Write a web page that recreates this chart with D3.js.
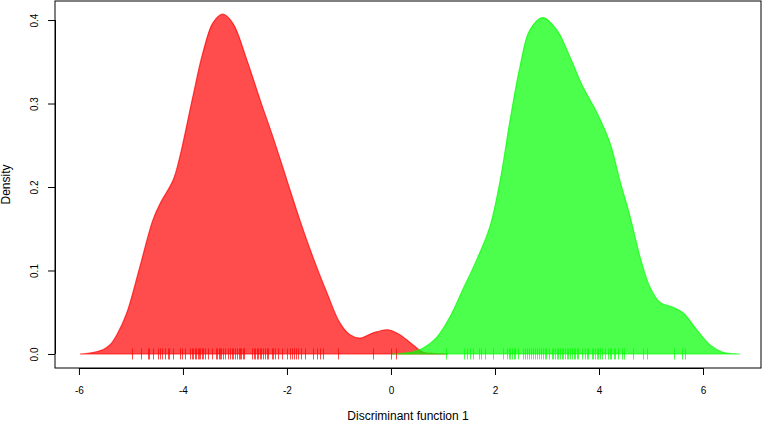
<!DOCTYPE html>
<html>
<head>
<meta charset="utf-8">
<script src="https://cdn.jsdelivr.net/npm/d3@7"></script>
<style>
  html, body { margin: 0; padding: 0; background: #fff; }
  svg { display: block; font-family: "Liberation Sans", Arial, Helvetica, sans-serif; }
</style>
</head>
<body>
<svg id="chart" width="767" height="423"></svg>
<script>
// ---- Data ----
const redX = [-5.98, -5.79, -5.54, -5.40, -5.27, -5.08, -4.83, -4.58, -4.44, -4.19, -4.06, -3.81, -3.62, -3.42, -3.23, -3.04, -2.77, -2.52, -2.27, -2.00, -1.75, -1.50, -1.23, -0.98, -0.79, -0.60, -0.35, -0.06, 0.17, 0.42, 0.62, 0.85, 1.10];
const redDensity = [0, 0.001, 0.005, 0.011, 0.023, 0.049, 0.104, 0.160, 0.180, 0.208, 0.236, 0.308, 0.360, 0.397, 0.407, 0.396, 0.352, 0.305, 0.260, 0.208, 0.160, 0.116, 0.073, 0.037, 0.023, 0.019, 0.025, 0.029, 0.023, 0.011, 0.002, 0.0005, 0];

const greenX = [0.02, 0.27, 0.45, 0.62, 0.88, 1.13, 1.38, 1.65, 1.90, 2.10, 2.29, 2.48, 2.67, 2.92, 3.19, 3.44, 3.69, 3.96, 4.21, 4.40, 4.60, 4.79, 4.98, 5.17, 5.42, 5.62, 5.88, 6.13, 6.38, 6.71];
const greenDensity = [0, 0.001, 0.003, 0.007, 0.020, 0.044, 0.077, 0.113, 0.152, 0.208, 0.280, 0.344, 0.388, 0.403, 0.388, 0.356, 0.320, 0.289, 0.253, 0.208, 0.164, 0.116, 0.080, 0.062, 0.056, 0.049, 0.029, 0.011, 0.002, 0];

const redRug = [-4.975, -4.81, -4.67, -4.65, -4.57, -4.475, -4.44, -4.40, -4.35, -4.29, -4.27, -4.19, -4.06, -4.025, -3.96, -3.865,
  -3.83, -3.80, -3.77, -3.75, -3.72, -3.69, -3.67, -3.64, -3.61, -3.58, -3.51, -3.44,
  -3.37, -3.34, -3.31, -3.28, -3.26, -3.225, -3.19, -3.14, -3.10, -3.06, -3.03, -3.00,
  -2.96, -2.93, -2.90, -2.875, -2.85, -2.82, -2.67, -2.64, -2.615, -2.58, -2.55, -2.52, -2.49, -2.46, -2.42, -2.39, -2.36,
  -2.29, -2.26, -2.23, -2.17, -2.10, -1.99, -1.94, -1.90, -1.87, -1.83, -1.78, -1.73, -1.65, -1.49, -1.43, -1.37, -1.30,
  -1.01, -0.34, 0.01, 0.10];
const greenRug = [1.06, 1.41, 1.46, 1.52, 1.58, 1.69, 1.74, 1.81, 1.97, 2.16, 2.23, 2.26, 2.29, 2.33, 2.36, 2.38, 2.45, 2.54,
  2.58, 2.62, 2.65, 2.69, 2.73, 2.77, 2.81, 2.85, 2.88, 2.93, 2.96, 2.99, 3.03, 3.09, 3.12, 3.15, 3.19, 3.22, 3.25, 3.28,
  3.31, 3.35, 3.38, 3.41, 3.44, 3.475, 3.51, 3.54, 3.57, 3.60, 3.67, 3.73, 3.76, 3.79, 3.86, 3.89, 3.92, 3.96, 3.99, 4.02,
  4.05, 4.12, 4.18, 4.21, 4.24, 4.28, 4.31, 4.37, 4.44, 4.49, 4.66, 4.85, 4.92, 5.45, 5.60, 5.65];

const xTicks = [-6, -4, -2, 0, 2, 4, 6];
const yTicks = [0.0, 0.1, 0.2, 0.3, 0.4];
const xTickLabels = ["-6", "-4", "-2", "0", "2", "4", "6"];
const yTickLabels = ["0.0", "0.1", "0.2", "0.3", "0.4"];

// ---- Layout ----
const svg = d3.select("#chart");
const plotL = 55, plotR = 761, plotT = 1, plotB = 368;

const x = d3.scaleLinear().domain([-6.46, 7.115]).range([plotL, plotR]);
const y = d3.scaleLinear().domain([-0.0168, 0.4228]).range([plotB, plotT]);

const area = d3.area()
  .x(d => x(d[0]))
  .y0(y(0))
  .y1(d => y(d[1]))
  .curve(d3.curveCatmullRom.alpha(0.5));

const redData = redX.map((v, i) => [v, redDensity[i]]);
const greenData = greenX.map((v, i) => [v, greenDensity[i]]);

svg.append("path").datum(redData)
  .attr("d", area)
  .attr("fill", "rgba(255,0,0,0.7)")
  .attr("stroke", "rgba(255,0,0,0.7)")
  .attr("stroke-width", 1.2);

svg.append("path").datum(greenData)
  .attr("d", area)
  .attr("fill", "rgba(0,255,0,0.7)")
  .attr("stroke", "rgba(0,255,0,0.7)")
  .attr("stroke-width", 1.2);

// rugs (pch="|" at density 0)
svg.append("g").selectAll("line").data(redRug).join("line")
  .attr("x1", d => Math.round(x(d)) + 0.5).attr("x2", d => Math.round(x(d)) + 0.5)
  .attr("y1", y(0) - 5.5).attr("y2", y(0) + 5.5)
  .attr("stroke", "rgba(255,0,0,0.7)").attr("stroke-width", 1);

svg.append("g").selectAll("line").data(greenRug).join("line")
  .attr("x1", d => Math.round(x(d)) + 0.5).attr("x2", d => Math.round(x(d)) + 0.5)
  .attr("y1", y(0) - 5.5).attr("y2", y(0) + 5.5)
  .attr("stroke", "rgba(0,255,0,0.7)").attr("stroke-width", 1);

// box
svg.append("rect")
  .attr("x", plotL).attr("y", plotT)
  .attr("width", plotR - plotL).attr("height", plotB - plotT)
  .attr("fill", "none").attr("stroke", "#000").attr("stroke-width", 1);

// x axis
const xAxis = d3.axisBottom(x).tickValues(xTicks)
  .tickFormat((d, i) => xTickLabels[i]).tickSize(7).tickPadding(10).tickSizeOuter(0);
const gx = svg.append("g").attr("transform", `translate(0,${plotB})`).call(xAxis);
gx.select(".domain").attr("d", `M${x(-6)},0.5H${x(6)}`).attr("stroke", "#000");
gx.selectAll(".tick line").attr("stroke", "#000");
gx.selectAll(".tick text").attr("font-size", 10).attr("font-family", "Liberation Sans, Arial, sans-serif")
  .attr("fill", "#000").attr("y", 26).attr("dy", 0);

// y axis
const yAxis = d3.axisLeft(y).tickValues(yTicks)
  .tickFormat((d, i) => yTickLabels[i]).tickSize(7).tickSizeOuter(0);
const gy = svg.append("g").attr("transform", `translate(${plotL},0)`).call(yAxis);
gy.select(".domain").attr("d", `M0.5,${y(0)}V${y(0.4)}`).attr("stroke", "#000");
gy.selectAll(".tick line").attr("stroke", "#000");
gy.selectAll(".tick text")
  .attr("font-size", 10).attr("font-family", "Liberation Sans, Arial, sans-serif").attr("fill", "#000")
  .attr("x", null).attr("dy", 0)
  .attr("text-anchor", "middle")
  .attr("transform", "translate(-17.5,0) rotate(-90)");

// axis titles
svg.append("text")
  .attr("x", (plotL + plotR) / 2).attr("y", 420)
  .attr("text-anchor", "middle").attr("font-size", 12).attr("fill", "#000")
  .text("Discriminant function 1");

svg.append("text")
  .attr("transform", `translate(10,${(plotT + plotB) / 2}) rotate(-90)`)
  .attr("text-anchor", "middle").attr("font-size", 12).attr("fill", "#000")
  .text("Density");
</script>
</body>
</html>
